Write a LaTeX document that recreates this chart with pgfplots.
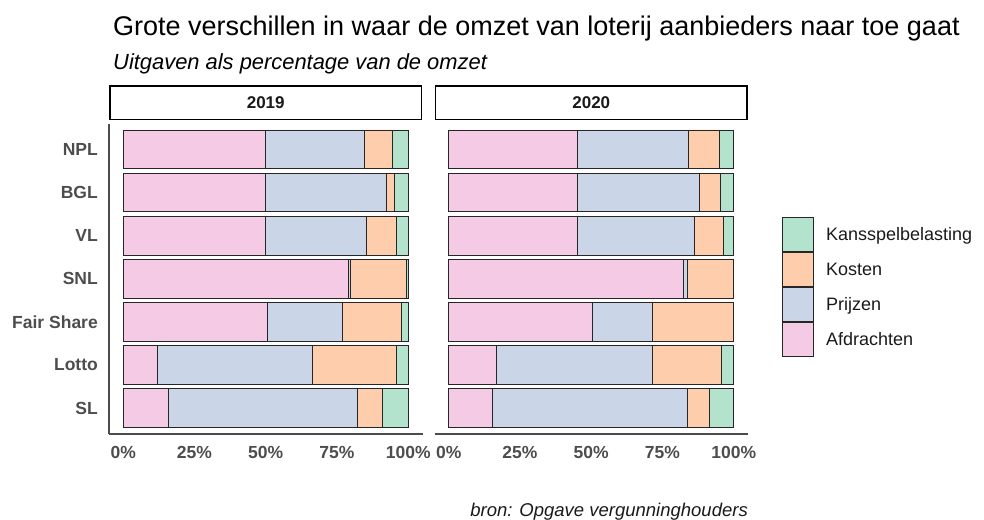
\documentclass[border=0pt]{standalone}
\usepackage{pgfplots}
\usepackage{pgfplotstable}
\pgfplotsset{compat=1.18}
\usepackage{fontspec}
\setmainfont{Liberation Sans}
\definecolor{cPink}{HTML}{F4CAE4}
\definecolor{cBlue}{HTML}{CBD5E8}
\definecolor{cOrange}{HTML}{FDCDAC}
\definecolor{cGreen}{HTML}{B3E2CD}
\definecolor{grey30}{HTML}{4D4D4D}
\definecolor{grey10}{HTML}{1A1A1A}

% y: 7=NPL ... 1=SL
\pgfplotstableread{
y afd prij kost kans
7 50.0 34.7 9.9 5.4
6 50.0 42.2 2.9 4.9
5 50.0 35.2 10.6 4.2
4 79.0 0.8 19.5 0.7
3 50.5 26.3 20.8 2.4
2 12.0 54.3 29.6 4.1
1 15.9 66.3 8.9 8.9
}\dataA
\pgfplotstableread{
y afd prij kost kans
7 45.0 39.1 10.8 5.1
6 45.0 42.8 7.5 4.7
5 45.0 41.2 10.2 3.6
4 82.4 1.4 16.2 0.0
3 50.4 21.0 28.6 0.0
2 16.9 54.5 24.4 4.2
1 15.3 68.4 7.8 8.5
}\dataB

\pgfplotsset{
  facet/.style={
    scale only axis, width=313.5pt, height=310.5pt,
    anchor=south west,
    xbar stacked, bar width=0.9,
    xmin=-5, xmax=105, ymin=0.4, ymax=7.6,
    xtick={0,25,50,75,100}, xticklabels={0\%,25\%,50\%,75\%,100\%},
    major tick length=0pt,
    axis x line*=bottom,
    axis line style={draw=black!70, line width=1.2pt, -},
    tick label style={font=\fontsize{17.5}{20}\selectfont\bfseries, text=grey30},
    xticklabel style={inner sep=0pt, yshift=-12pt},
    yticklabel style={inner sep=0pt, xshift=-11pt},
    every axis plot/.append style={draw=black!85, line width=0.9pt},
    every axis plot post/.append style={
      legend image code/.code={\draw[##1, draw=black!85, line width=1pt] (0pt,-17pt) rectangle (31pt,17pt);}},
  }
}

\begin{document}
\begin{tikzpicture}
\path (0pt,0pt) rectangle (984pt,519pt);

\node[anchor=base west, inner sep=0pt, font=\fontsize{27}{30}\selectfont] at (113pt,483.3pt)
  {Grote verschillen in waar de omzet van loterij aanbieders naar toe gaat};
\node[anchor=base west, inner sep=0pt, font=\fontsize{21.9}{25}\selectfont\itshape] at (113pt,449pt)
  {Uitgaven als percentage van de omzet};
\node[anchor=base east, inner sep=0pt, font=\fontsize{18.5}{22}\selectfont\itshape, text=grey10] at (748pt,3pt)
  {bron: Opgave vergunninghouders};

\begin{axis}[facet, at={(109pt,85pt)},
  axis y line*=left,
  ytick={1,2,3,4,5,6,7},
  yticklabels={SL,Lotto,Fair Share,SNL,VL,BGL,NPL},
]
\addplot[fill=cPink] table[x=afd, y=y] {\dataA};
\addplot[fill=cBlue] table[x=prij, y=y] {\dataA};
\addplot[fill=cOrange] table[x=kost, y=y] {\dataA};
\addplot[fill=cGreen] table[x=kans, y=y] {\dataA};
\end{axis}

\begin{axis}[facet, at={(434.5pt,85pt)},
  axis y line=none,
  ytick=\empty,
  reverse legend,
  legend cell align=left,
  legend style={at={(1.108,0.699)}, anchor=north west, draw=none, fill=none,
    row sep=0pt, inner sep=0pt,
    nodes={inner sep=0pt, font=\fontsize{18}{21}\selectfont, text=grey10},
    /tikz/every odd column/.append style={column sep=12pt}},
]
\addplot[fill=cPink] table[x=afd, y=y] {\dataB};
\addplot[fill=cBlue] table[x=prij, y=y] {\dataB};
\addplot[fill=cOrange] table[x=kost, y=y] {\dataB};
\addplot[fill=cGreen] table[x=kans, y=y] {\dataB};
\legend{Afdrachten,Prijzen,Kosten,Kansspelbelasting}
\end{axis}

\draw[line width=1.8pt, fill=white] (110pt,399.5pt) rectangle (421.5pt,433pt);
\node[font=\fontsize{17}{20}\selectfont\bfseries, text=grey10] at (265.75pt,416pt) {2019};
\draw[line width=1.8pt, fill=white] (435.5pt,399.5pt) rectangle (747pt,433pt);
\node[font=\fontsize{17}{20}\selectfont\bfseries, text=grey10] at (591.25pt,416pt) {2020};
\end{tikzpicture}
\end{document}
